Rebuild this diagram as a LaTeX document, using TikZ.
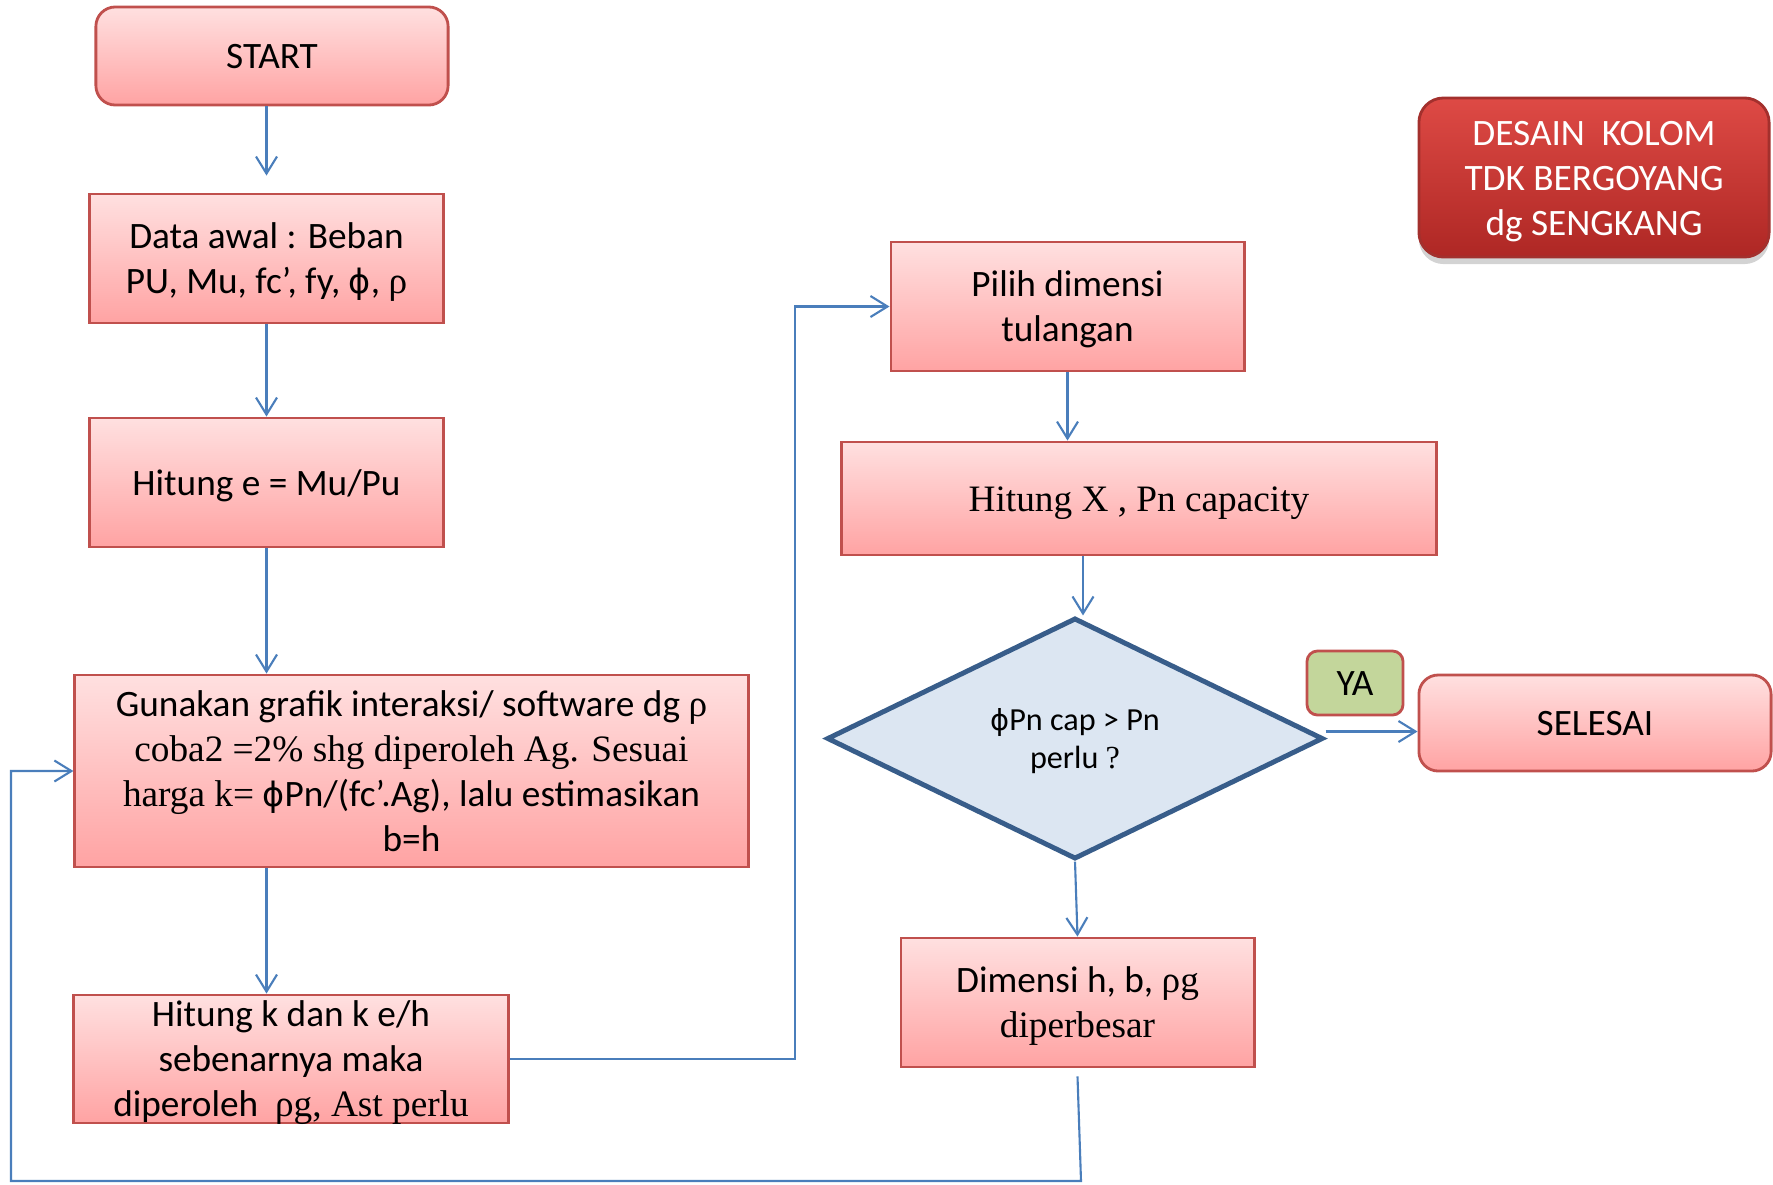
\documentclass[tikz,border=0pt]{standalone}
\usepackage{fontspec}
\setmainfont{Carlito}
\newfontfamily\tms{Liberation Serif}
\newfontfamily\dvs[Scale=0.9]{DejaVu Sans}
\usetikzlibrary{positioning}
\usetikzlibrary{arrows.meta}
\usetikzlibrary{shapes.geometric}
\usetikzlibrary{shadows}
\definecolor{garisbiru}{HTML}{4A7EBB}
\definecolor{tepimerah}{HTML}{C0504D}
\definecolor{pinkatas}{HTML}{FFE0E0}
\definecolor{pinkbawah}{HTML}{FFA3A3}
\definecolor{birutua}{HTML}{385D8A}
\definecolor{birumuda}{HTML}{DCE6F2}
\definecolor{hijau}{HTML}{C3D69B}
\definecolor{merahatas}{HTML}{DE4A45}
\definecolor{merahbawah}{HTML}{AE2724}
\definecolor{merahtepi}{HTML}{A3302D}
\newcommand{\phis}{{\dvs ϕ}}
\newcommand{\ats}{\rule{0pt}{0.952em}}
\newcommand{\bwh}{\rule[-0.269em]{0pt}{0pt}}

\begin{document}
\begin{tikzpicture}[x=0.01cm,y=-0.01cm,font=\fontsize{10.6}{12.8}\selectfont]
\tikzset{proses/.style={rectangle, draw=tepimerah, line width=0.8pt, top color=pinkatas, bottom color=pinkbawah, align=center, inner sep=0pt}}
\tikzset{mulai/.style={proses, rounded corners=5.5pt}}
\tikzset{keputusan/.style={diamond, aspect=2.06, draw=birutua, line width=1.4pt, fill=birumuda, inner sep=0pt, align=center, font=\fontsize{9.15}{10.8}\selectfont}}
\tikzset{kotakya/.style={rectangle, rounded corners=3pt, draw=tepimerah, line width=0.8pt, fill=hijau, inner sep=0pt}}
\tikzset{judul/.style={rectangle, rounded corners=7pt, draw=merahtepi, line width=0.8pt, top color=merahatas, bottom color=merahbawah, text=white, align=center, inner sep=0pt, drop shadow={shadow xshift=0pt, shadow yshift=-0.07cm, opacity=0.35}}}
\tikzset{panah/.style={-{Straight Barb[length=1.7mm,width=2.1mm]}, draw=garisbiru, line width=0.6pt}}
\useasboundingbox (0,0) rectangle (1773,1184);
% kolom kiri
\node[mulai, minimum width=3.52cm, minimum height=0.98cm] (start) at (272,56) {\ats START\bwh};
\node[proses, minimum width=3.53cm, minimum height=1.29cm] (data) at (266.5,258.5) {\ats Data awal : Beban\\PU, Mu, fc’, fy, \phis, {\tms ρ}\bwh};
\node[proses, minimum width=3.53cm, minimum height=1.29cm] (hite) at (266.5,482.5) {\ats Hitung e = Mu/Pu\bwh};
\node[proses, minimum width=6.73cm, minimum height=1.92cm] (guna) at (411.5,771) {\ats Gunakan grafik interaksi/ software dg {\tms ρ}\\{\tms coba2 =2\% shg diperoleh Ag. Sesuai}\\{\tms harga k=} \phis Pn/(fc’.Ag), lalu estimasikan\\b=h\bwh};
\node[proses, inner ysep=-1.5pt, minimum width=4.34cm, minimum height=1.28cm] (hitk) at (291,1059) {\ats Hitung k dan k e/h\\sebenarnya maka\\diperoleh \ {\tms ρg, Ast perlu}\bwh};
% kolom kanan
\node[proses, minimum width=3.53cm, minimum height=1.29cm] (pilih) at (1067.5,306.5) {\ats Pilih dimensi\\tulangan\bwh};
\node[proses, minimum width=5.94cm, minimum height=1.13cm] (hitx) at (1139,498.5) {\ats{\tms Hitung X , Pn capacity}\bwh};
\node[keputusan, minimum width=4.96cm, minimum height=2.41cm] (cek) at (1075,738.5) {\ats\phis Pn cap > Pn\\perlu {\tms ?}\bwh};
\node[proses, minimum width=3.53cm, minimum height=1.29cm] (dim) at (1077.5,1002.5) {\ats Dimensi h, b, {\tms ρg}\\{\tms diperbesar}\bwh};
\node[kotakya, minimum width=0.96cm, minimum height=0.64cm] (ya) at (1355,683) {\ats YA\bwh};
\node[mulai, minimum width=3.52cm, minimum height=0.96cm] (selesai) at (1595,723) {\ats SELESAI\bwh};
\node[judul, minimum width=3.5cm, minimum height=1.59cm] (judul) at (1594,177.5) {\ats DESAIN\ \ KOLOM\\TDK BERGOYANG\\dg SENGKANG\bwh};
% titik belok
\coordinate (belok) at (795,306.5);
\coordinate (bawah) at (1081,1181);
\coordinate (kiri) at (11,1181);
\draw[panah] (data.north |- start.south) -- ([yshift=0.17cm]data.north);
\draw[panah] (data) -- (hite);
\draw[panah] (hite.south) -- (hite.south |- guna.north);
\draw[panah] (hite.south |- guna.south) -- (hite.south |- hitk.north);
\draw[panah] (hitk.east) -| (belok) -- (pilih.west);
\draw[panah] (pilih.south) -- (pilih.south |- hitx.north);
\draw[panah] ([xshift=0.08cm]cek.north |- hitx.south) -- ([xshift=0.08cm]cek.north);
\draw[panah] (cek.south) -- (dim.north);
\draw[panah] ([yshift=0.07cm]cek.east) -- ([yshift=0.07cm]cek.east -| selesai.west);
\draw[panah] ([yshift=-0.08cm]dim.south) -- (bawah) -- (kiri) |- (guna.west);
\end{tikzpicture}
\end{document}
